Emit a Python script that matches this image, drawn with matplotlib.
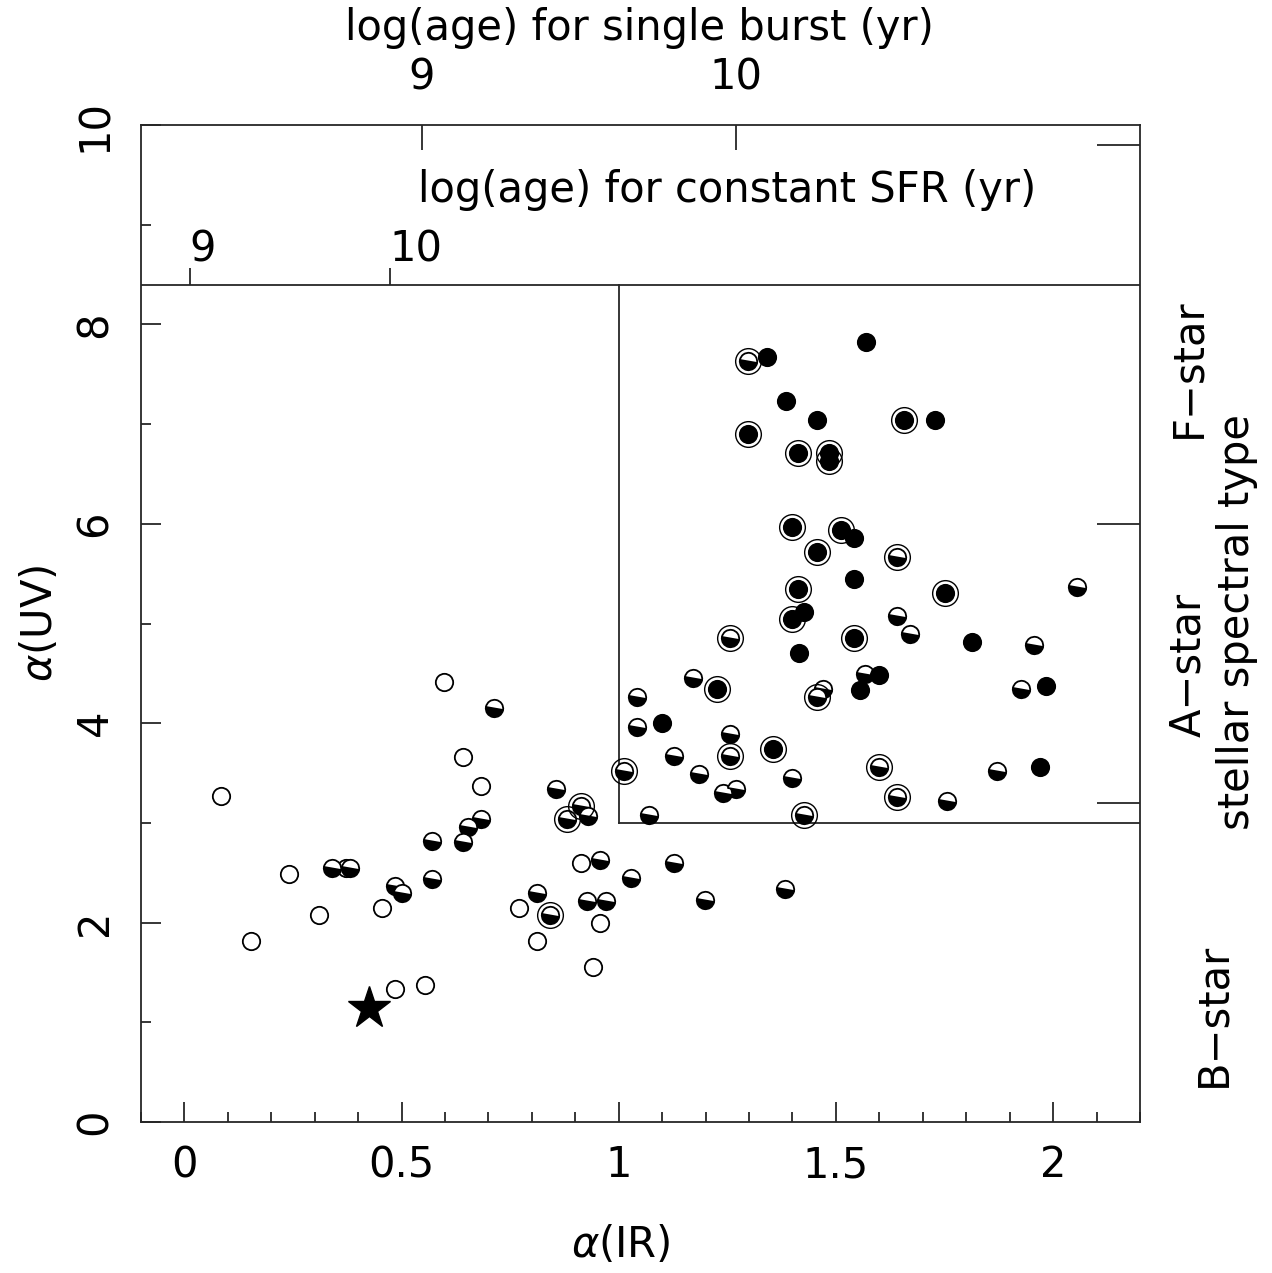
"""
    alpha(UV) vs alpha(IR) colour-colour diagram
"""
#==============================================================================
#                   Modules
#==============================================================================
import matplotlib.pyplot as plt
from matplotlib.markers import MarkerStyle
from matplotlib.transforms import Affine2D

plt.rcParams['font.family'] = ['DejaVu Sans']

#==============================================================================
#                  Data
#==============================================================================
# open circles
open_x = [0.085, 0.154, 0.242, 0.311, 0.371, 0.456, 0.484, 0.555, 0.597, 0.641,
          0.684, 0.770, 0.811, 0.912, 0.956, 0.940]
open_y = [3.27, 1.82, 2.49, 2.08, 2.55, 2.15, 1.33, 1.37, 4.41, 3.66,
          3.37, 2.15, 1.82, 2.60, 2.00, 1.55]

# half filled circles
half_x = [0.341, 0.382, 0.484, 0.500, 0.569, 0.569, 0.712, 0.654, 0.641, 0.684,
          0.811, 0.841, 0.855, 0.912, 0.929, 0.882, 0.956, 0.926, 0.970, 1.012,
          1.069, 1.041, 1.041, 1.127, 1.171, 1.184, 1.256, 1.256, 1.256, 1.241,
          1.270, 1.297, 1.641, 1.641, 1.670, 1.956, 1.568, 1.456, 1.470, 1.926,
          2.055, 1.399, 1.599, 1.871, 1.641, 1.756, 1.427, 1.028, 1.127, 1.198,
          1.382]
half_y = [2.55, 2.55, 2.37, 2.30, 2.82, 2.44, 4.15, 2.96, 2.81, 3.04,
          2.30, 2.08, 3.34, 3.17, 3.07, 3.04, 2.63, 2.22, 2.22, 3.52,
          3.08, 4.26, 3.96, 3.67, 4.45, 3.49, 3.89, 3.67, 4.85, 3.30,
          3.34, 7.63, 5.67, 5.08, 4.89, 4.78, 4.49, 4.26, 4.34, 4.34,
          5.37, 3.45, 3.56, 3.52, 3.26, 3.22, 3.08, 2.45, 2.60, 2.23,
          2.34]

# filled circles
full_x = [1.341, 1.385, 1.297, 1.412, 1.484, 1.484, 1.456, 1.569, 1.657, 1.728,
          1.399, 1.512, 1.541, 1.456, 1.541, 1.412, 1.751, 1.399, 1.426, 1.541,
          1.813, 1.414, 1.599, 1.555, 1.984, 1.970, 1.099, 1.227, 1.355]
full_y = [7.67, 7.23, 6.90, 6.71, 6.71, 6.63, 7.04, 7.82, 7.04, 7.04,
          5.97, 5.94, 5.86, 5.72, 5.45, 5.35, 5.31, 5.05, 5.12, 4.85,
          4.81, 4.70, 4.48, 4.33, 4.37, 3.56, 4.00, 4.34, 3.74]

# objects marked with an extra ring
ring_x = [0.841, 0.912, 0.882, 1.012, 1.256, 1.256, 1.297, 1.641, 1.456, 1.599,
          1.641, 1.427, 1.297, 1.412, 1.484, 1.484, 1.657, 1.399, 1.512, 1.456,
          1.412, 1.751, 1.399, 1.541, 1.227, 1.355]
ring_y = [2.08, 3.17, 3.04, 3.52, 3.67, 4.85, 7.63, 5.67, 4.26, 3.56,
          3.26, 3.08, 6.90, 6.71, 6.71, 6.63, 7.04, 5.97, 5.94, 5.72,
          5.35, 5.31, 5.05, 4.85, 4.34, 3.74]

star_x = [0.426]
star_y = [1.14]

# age scales and spectral type marks
burst_tick_x = [0.547, 1.269]
burst_tick_lab = ['9', '10']
sfr_tick_x = [0.012, 0.474]
sfr_tick_lab = ['9', '10']
spec_tick_y = [9.8, 6.0, 3.2]

#==============================================================================
#                  Plot
#==============================================================================
fig = plt.figure(figsize=(12.72, 12.73), dpi=100)
ax = fig.add_axes([0.1108, 0.1186, 0.7854, 0.7832])

lc = '0.15'
fs = 30
ms = 12.5

half_marker = MarkerStyle('o', fillstyle='bottom',
                          transform=Affine2D().rotate_deg(-10))

ax.plot(open_x, open_y, 'o', ls='none', ms=ms, mfc='white', mec='black',
        mew=1.3, zorder=3)
ax.plot(half_x, half_y, ls='none', marker=half_marker, ms=ms, mfc='black',
        markerfacecoloralt='white', mec='black', mew=1.3, zorder=3)
ax.plot(full_x, full_y, 'o', ls='none', ms=ms, mfc='black', mec='black',
        mew=1.3, zorder=3)
ax.plot(ring_x, ring_y, 'o', ls='none', ms=18.5, mfc='none', mec='black',
        mew=1.0, zorder=4)
ax.plot(star_x, star_y, '*', ls='none', ms=32, color='black', zorder=3)

# box and dividing lines
ax.axhline(8.4, color=lc, lw=1.3)
ax.plot([1, 1], [3, 8.4], color=lc, lw=1.3)
ax.plot([1, 2.2], [3, 3], color=lc, lw=1.3)

# age ticks
ax.vlines(burst_tick_x, 9.75, 10, color=lc, lw=1.3)
ax.vlines(sfr_tick_x, 8.4, 8.57, color=lc, lw=1.3)
ax.hlines(spec_tick_y, 2.1, 2.2, color=lc, lw=1.3)

ax.set_xlim(-0.1, 2.2)
ax.set_ylim(0, 10)

ax.set_xticks([0, 0.5, 1, 1.5, 2])
ax.set_xticklabels(['0', '0.5', '1', '1.5', '2'])
ax.set_xticks([i / 10 for i in range(-1, 23)], minor=True)
ax.set_yticks([0, 2, 4, 6, 8, 10])
ax.set_yticks([1, 3, 5, 7, 9], minor=True)
ax.tick_params(which='both', direction='in', top=False, right=False,
               color=lc, width=1.3, labelsize=fs)
ax.tick_params(which='major', length=14.5)
ax.tick_params(which='minor', length=7)
ax.tick_params(axis='x', pad=16)
ax.tick_params(axis='y', pad=18)
for lab in ax.get_yticklabels():
    lab.set_rotation(90)
    lab.set_va('center')

for sp in ax.spines.values():
    sp.set_color(lc)
    sp.set_linewidth(1.3)

ax.set_xlabel(r'$\alpha$(IR)', fontsize=fs, va='center')
ax.xaxis.set_label_coords(0.48, -0.123)
ax.set_ylabel(r'$\alpha$(UV)', fontsize=fs, va='center')
ax.yaxis.set_label_coords(-0.101, 0.5)

# top scales
ax.text(1.048, 10.97, 'log(age) for single burst (yr)', fontsize=fs,
        ha='center', va='center')
for xx, tt in zip(burst_tick_x, burst_tick_lab):
    ax.text(xx, 10.48, tt, fontsize=fs, ha='center', va='center')
ax.text(1.249, 9.35, 'log(age) for constant SFR (yr)', fontsize=fs,
        ha='center', va='center')
ax.text(0.041, 8.75, sfr_tick_lab[0], fontsize=fs, ha='center', va='center')
ax.text(0.532, 8.75, sfr_tick_lab[1], fontsize=fs, ha='center', va='center')

# spectral type
ax.text(2.311, 7.56, 'F\u2212star', fontsize=fs, rotation=90,
        ha='center', va='center', clip_on=False)
ax.text(2.311, 4.58, 'A\u2212star', fontsize=fs, rotation=90,
        ha='center', va='center', clip_on=False)
ax.text(2.424, 5.02, 'stellar spectral type', fontsize=fs, rotation=90,
        ha='center', va='center', clip_on=False)
ax.text(2.369, 1.07, 'B\u2212star', fontsize=fs, rotation=90,
        ha='center', va='center', clip_on=False)

plt.savefig('out.png', dpi=100)
